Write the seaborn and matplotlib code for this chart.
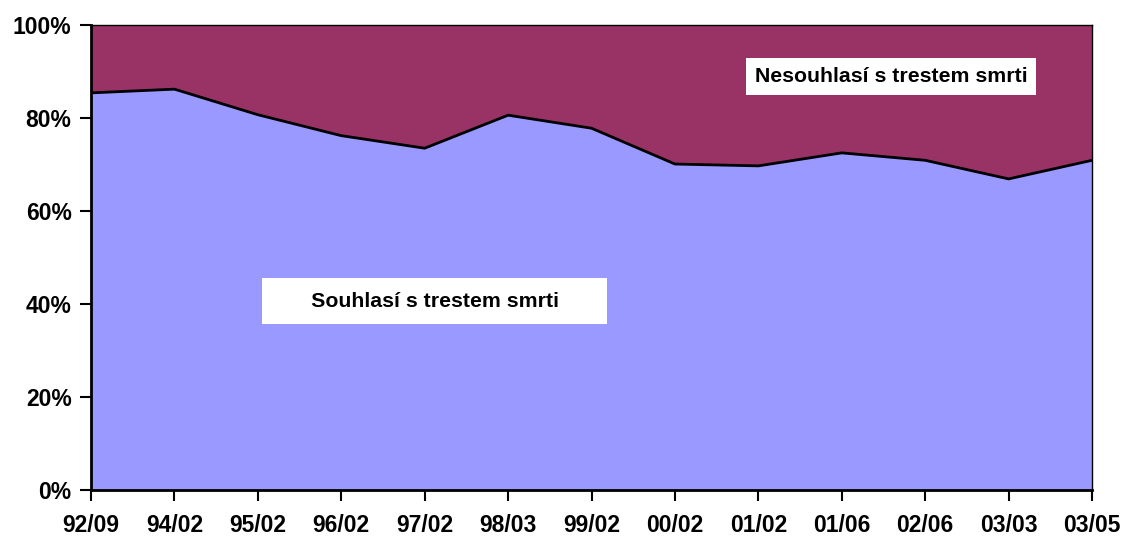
import numpy as np
import matplotlib
matplotlib.use("Agg")
import matplotlib.pyplot as plt
import seaborn as sns

periods = ["92/09", "94/02", "95/02", "96/02", "97/02", "98/03", "99/02",
           "00/02", "01/02", "01/06", "02/06", "03/03", "03/05"]
souhlasi = [85.4, 86.2, 80.7, 76.2, 73.5, 80.6, 77.8, 70.1, 69.7, 72.5, 70.9, 66.9, 70.9]
nesouhlasi = [100 - v for v in souhlasi]

sns.set_style("white")
plt.rcParams['font.family'] = ['Liberation Sans', 'DejaVu Sans']
plt.rcParams['text.color'] = 'black'
plt.rcParams['xtick.color'] = 'black'
plt.rcParams['ytick.color'] = 'black'

fig = plt.figure(figsize=(11.25, 5.36), dpi=100)
ax = fig.add_axes([0.0809, 0.0858, 0.8898, 0.8676])

x = np.arange(len(periods))
ax.stackplot(x, souhlasi, nesouhlasi, colors=["#9999FF", "#993366"], linewidth=0)
sns.lineplot(x=x, y=souhlasi, ax=ax, color="black", linewidth=2)

ax.set_xlim(0, len(periods) - 1)
ax.set_ylim(0, 100)
ax.set_xticks(x)
ax.set_xticklabels(periods)
ax.set_yticks([0, 20, 40, 60, 80, 100])
ax.set_yticklabels([f"{v}%" for v in range(0, 101, 20)])
ax.tick_params(axis="both", direction="out", length=8, width=1.5, color="black",
               labelsize=16.5, bottom=True, left=True)
ax.tick_params(axis="x", pad=9)
ax.tick_params(axis="y", pad=6)
for lab in ax.get_xticklabels() + ax.get_yticklabels():
    lab.set_fontweight("bold")

for side in ["left", "bottom"]:
    ax.spines[side].set_linewidth(2)
    ax.spines[side].set_color("black")
for side in ["top", "right"]:
    ax.spines[side].set_linewidth(1)
    ax.spines[side].set_color("black")

ax.text(9.59, 89.0, "Nesouhlasí s trestem smrti", ha="center", va="center",
        fontsize=15.3, fontweight="bold",
        bbox=dict(boxstyle="square,pad=0.42", facecolor="white", edgecolor="none"))
ax.text(4.12, 40.6, "      Souhlasí s trestem smrti      ", ha="center", va="center",
        fontsize=15.3, fontweight="bold",
        bbox=dict(boxstyle="square,pad=0.64", facecolor="white", edgecolor="none"))

fig.savefig("out.png", dpi=100)
